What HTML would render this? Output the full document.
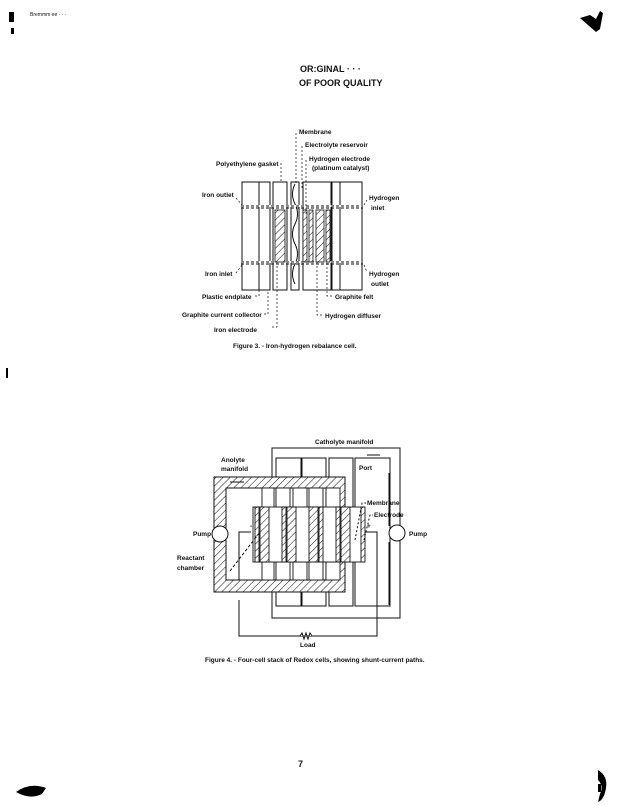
<!DOCTYPE html>
<html><head><meta charset="utf-8"><style>
html,body{margin:0;padding:0;background:#fff;}
svg{display:block;}
text{font-family:"Liberation Sans",sans-serif;fill:#111;}
.s{font-size:6.5px;font-weight:bold;}
</style></head><body>
<svg width="622" height="805" viewBox="0 0 622 805" xmlns="http://www.w3.org/2000/svg">
<defs>
<pattern id="h" width="5" height="5" patternUnits="userSpaceOnUse" patternTransform="rotate(45)">
<rect width="5" height="5" fill="#fff"/><line x1="0" y1="0" x2="0" y2="5" stroke="#222" stroke-width="1.1"/></pattern>
</defs>
<!-- scan marks -->
<rect x="9" y="12" width="5" height="10" fill="#000"/><rect x="11" y="28" width="3" height="6" fill="#000"/>
<text x="30" y="16" style="font-size:5px">Bremmm ee · · ·</text>
<path d="M580 18 l10 -3 l6 4 l4 -8 l3 2 l-3 16 l-4 3 z" fill="#000"/>
<path d="M16 792 q14 -10 30 -4 l-4 6 q-12 6 -26 -2z" fill="#000"/>
<path d="M598 770 q10 6 8 18 q-2 12 -8 14 l2 -8 q4 -8 -2 -14z" fill="#000"/><rect x="598" y="784" width="3" height="8" fill="#000"/>
<rect x="6" y="368" width="2" height="10" fill="#000"/>
<!-- header -->
<text x="300" y="72" style="font-size:9px;font-weight:bold">OR:GINAL ·  · ·</text>
<text x="299" y="86" style="font-size:9px;font-weight:bold">OF POOR QUALITY</text>

<!-- FIGURE 3 -->
<g stroke="#111" stroke-width="1" fill="none">
<rect x="242" y="182" width="17" height="108"/><rect x="259" y="182" width="11" height="108"/>
<rect x="273" y="182" width="14" height="108"/>
<rect x="291" y="182" width="8" height="108"/>
<path d="M295 184 q-5 10 0 20 q5 10 0 20 q-5 10 0 20 q5 10 0 20 q-5 10 0 20" />
<rect x="303" y="182" width="28" height="108"/><rect x="332" y="182" width="8" height="108"/><rect x="340" y="182" width="22" height="108"/>
</g>
<g stroke="#fff" stroke-width="2"><line x1="241" y1="206" x2="363" y2="206"/><line x1="241" y1="262" x2="363" y2="262"/></g>
<g stroke="#111" stroke-width="1" stroke-dasharray="3,2"><line x1="241" y1="206" x2="363" y2="206"/><line x1="241" y1="208" x2="363" y2="208"/><line x1="241" y1="262" x2="363" y2="262"/><line x1="241" y1="264" x2="363" y2="264"/></g>
<g stroke="#111" stroke-width="0.8">
<rect x="275" y="210" width="10" height="52" fill="url(#h)"/>
<rect x="303" y="210" width="4" height="52" fill="url(#h)"/><rect x="309" y="210" width="4" height="52" fill="url(#h)"/>
<rect x="316" y="210" width="8" height="52" fill="url(#h)"/><rect x="326" y="210" width="4" height="52" fill="url(#h)"/>
</g>
<g stroke="#111" stroke-width="0.7" stroke-dasharray="2,2" fill="none">
<polyline points="296,133 296,184"/><polyline points="302,146 302,190"/><polyline points="306,160 306,215"/>
<polyline points="281,163 281,182"/><polyline points="236,198 242,205"/><polyline points="236,273 242,265"/>
<polyline points="364,205 367,200"/><polyline points="364,265 367,272"/>
<polyline points="255,296 259,296 259,290"/><polyline points="264,314 268,314 268,290"/><polyline points="272,327 277,327 277,262"/>
<polyline points="332,296 327,296 327,262"/><polyline points="322,315 317,315 317,262"/>
</g>
<text class="s" x="299" y="134">Membrane</text>
<text class="s" x="305" y="147">Electrolyte reservoir</text>
<text class="s" x="309" y="161">Hydrogen electrode</text>
<text class="s" x="312" y="170">(platinum catalyst)</text>
<text class="s" x="216" y="166">Polyethylene gasket</text>
<text class="s" x="202" y="197">Iron outlet</text>
<text class="s" x="205" y="276">Iron inlet</text>
<text class="s" x="369" y="200">Hydrogen</text><text class="s" x="371" y="210">inlet</text>
<text class="s" x="369" y="276">Hydrogen</text><text class="s" x="371" y="286">outlet</text>
<text class="s" x="202" y="299">Plastic endplate</text>
<text class="s" x="182" y="317">Graphite current collector</text>
<text class="s" x="214" y="332">Iron electrode</text>
<text class="s" x="335" y="299">Graphite felt</text>
<text class="s" x="325" y="318">Hydrogen diffuser</text>
<text class="s" x="233" y="348">Figure 3. - Iron-hydrogen rebalance cell.</text>

<!-- FIGURE 4 -->
<g stroke="#111" stroke-width="1" fill="none">
<rect x="272" y="448" width="128" height="170"/>
<rect x="276" y="458" width="25" height="148"/><rect x="302" y="458" width="24" height="148"/>
<rect x="329" y="458" width="24" height="148"/><rect x="355" y="458" width="35" height="148"/>
<polyline points="389,473 389,526"/><polyline points="389,542 389,605"/>
</g>
<!-- anolyte frame -->
<path d="M214 477 H345 V592 H214 Z M226 488 V580 H333 V488 Z" fill="url(#h)" fill-rule="evenodd" stroke="#111" stroke-width="1"/>
<!-- inner small blocks top/bottom -->
<g fill="#fff" stroke="#111" stroke-width="0.9">
<rect x="262" y="488" width="12" height="20"/><rect x="276" y="488" width="14" height="20"/><rect x="293" y="488" width="14" height="20"/>
<rect x="309" y="488" width="14" height="20"/><rect x="326" y="488" width="14" height="20"/>
<rect x="262" y="562" width="12" height="18"/><rect x="276" y="562" width="14" height="18"/><rect x="293" y="562" width="14" height="18"/>
<rect x="309" y="562" width="14" height="18"/><rect x="326" y="562" width="14" height="18"/>
<rect x="253" y="507" width="111" height="55"/>
</g>
<g stroke="#111" stroke-width="0.9">
<rect x="255" y="507" width="4" height="55" fill="url(#h)"/><rect x="260" y="507" width="9" height="55" fill="url(#h)"/>
<rect x="282" y="507" width="4" height="55" fill="url(#h)"/><rect x="287" y="507" width="9" height="55" fill="url(#h)"/>
<rect x="309" y="507" width="9" height="55" fill="url(#h)"/><rect x="319" y="507" width="4" height="55" fill="url(#h)"/>
<rect x="336" y="507" width="4" height="55" fill="url(#h)"/><rect x="341" y="507" width="9" height="55" fill="url(#h)"/>
<rect x="361" y="507" width="4" height="55" fill="url(#h)"/>
</g>
<!-- wires and pumps -->
<g stroke="#111" stroke-width="1" fill="none">
<polyline points="239,600 239,636 377,636 377,600"/>
<polyline points="239,580 239,532 251,532"/><polyline points="365,532 377,532 377,618"/>
<circle cx="220" cy="534" r="8" fill="#fff"/><circle cx="397" cy="533" r="8" fill="#fff"/>
<path d="M300 636 l2 -3 l2 6 l2 -6 l2 6 l2 -6 l2 3" fill="#fff"/>
<line x1="230" y1="482" x2="244" y2="482"/><line x1="367" y1="455" x2="380" y2="455"/>
<polyline points="230,571 260,532" stroke-dasharray="3,2"/>
<polyline points="355,540 362,503 366,503" stroke-dasharray="2,2"/><polyline points="364,540 370,515 373,515" stroke-dasharray="2,2"/>
</g>
<text class="s" x="315" y="444">Catholyte manifold</text>
<text class="s" x="221" y="462">Anolyte</text><text class="s" x="221" y="471">manifold</text>
<text class="s" x="359" y="470">Port</text>
<text class="s" x="367" y="505">Membrane</text>
<text class="s" x="374" y="517">Electrode</text>
<text class="s" x="193" y="536">Pump</text>
<text class="s" x="409" y="536">Pump</text>
<text class="s" x="177" y="560">Reactant</text><text class="s" x="177" y="570">chamber</text>
<text class="s" x="250" y="528">-</text><text class="s" x="367" y="528">+</text>
<text class="s" x="300" y="647">Load</text>
<text class="s" x="205" y="662">Figure 4. - Four-cell stack of Redox cells, showing shunt-current paths.</text>

<text x="298" y="767" style="font-size:9px;font-weight:bold">7</text>
</svg>
</body></html>
